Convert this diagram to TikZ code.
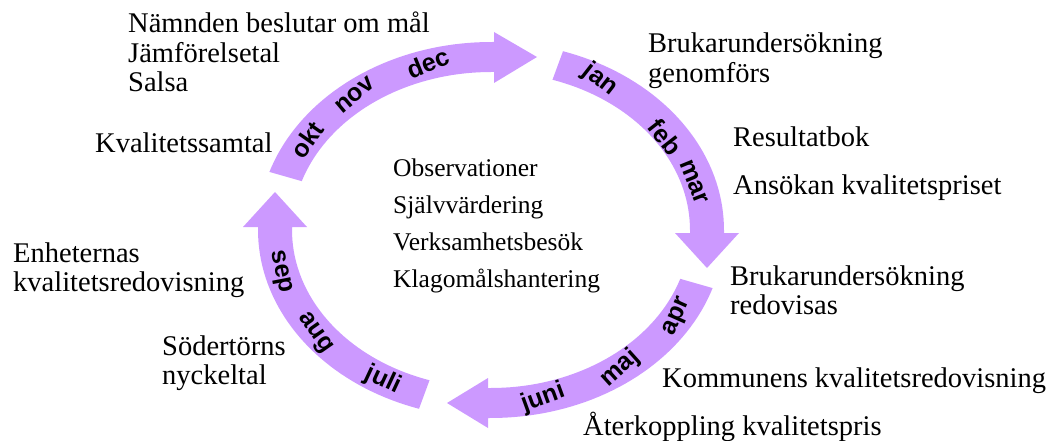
\documentclass[tikz,border=0pt]{standalone}
\usepackage{fontspec}
\setmainfont{Liberation Serif}
\newfontfamily\monthfont{Liberation Sans}
\definecolor{lav}{HTML}{CC99FF}
\newcommand\stacklines[1]{\vtop{\halign{##\hfil\cr#1\crcr}}}
\tikzset{
  band/.style={fill=lav, draw=none},
  mon/.style={font=\monthfont\bfseries\fontsize{25}{25}\selectfont, inner sep=0pt},
  lbl/.style={font=\fontsize{28.5}{29.5}\selectfont, inner sep=0pt, anchor=base west},
  ctr/.style={font=\fontsize{25.5}{36.7}\selectfont, inner sep=0pt, anchor=base west},
}
\begin{document}
\begin{tikzpicture}[x=1pt,y=-1pt]
\useasboundingbox (0,0) rectangle (1053,441);
% top arrow (okt-dec)
\fill[band] plot[domain=162:90, samples=40] ({491+233*cos(\x)},{230-188*sin(\x)})
  -- (494,42) -- (494,32) -- (537,57) -- (494,83) -- (494,72)
  -- plot[domain=90:162, samples=40] ({491+199*cos(\x)},{230-158*sin(\x)}) -- cycle;
% right arrow (jan-mar)
\fill[band] plot[domain=72:0, samples=40] ({491+233*cos(\x)},{230-188*sin(\x)})
  -- (724,233) -- (739,233) -- (707,268) -- (675,233) -- (690,233)
  -- plot[domain=0:72, samples=40] ({491+199*cos(\x)},{230-158*sin(\x)}) -- cycle;
% bottom arrow (apr-juni)
\fill[band] plot[domain=-18:-90, samples=40] ({491+233*cos(\x)},{230-188*sin(\x)})
  -- (488,418) -- (488,428) -- (447,403) -- (488,378) -- (488,388)
  -- plot[domain=-90:-18, samples=40] ({491+199*cos(\x)},{230-158*sin(\x)}) -- cycle;
% left arrow (juli-sep)
\fill[band] plot[domain=252:180, samples=40] ({491+233*cos(\x)},{230-188*sin(\x)})
  -- (258,227) -- (243,227) -- (275,192) -- (307,227) -- (292,227)
  -- plot[domain=180:252, samples=40] ({491+199*cos(\x)},{230-158*sin(\x)}) -- cycle;

% month labels
\node[mon, rotate=55]  (okt)  at (307,140) {okt};
\node[mon, rotate=40]  (nov)  at (355,95)  {nov};
\node[mon, rotate=22]  (dec)  at (428,63)  {dec};
\node[mon, rotate=-38] (jan)  at (600,80)  {jan};
\node[mon, rotate=-52] (feb)  at (665,137) {feb};
\node[mon, rotate=-68] (mar)  at (694,182) {mar};
\node[mon, rotate=66]  (apr)  at (678,317) {apr};
\node[mon, rotate=42]  (maj)  at (620,368) {maj};
\node[mon, rotate=20]  (juni) at (543,398) {juni};
\node[mon, rotate=-25] (juli) at (383,380) {juli};
\node[mon, rotate=-55] (aug)  at (315,333) {aug};
\node[mon, rotate=-79] (sep)  at (280,272) {sep};

% outer texts
\node[lbl] (namnd) at (128,33) {\stacklines{Nämnden beslutar om mål\cr Jämförelsetal\cr Salsa}};
\node[lbl] (kval)  at (95,153) {Kvalitetssamtal};
\node[lbl] (bruk1) at (648,53) {\stacklines{Brukarundersökning\cr genomförs}};
\node[lbl] (resb)  at (733,147) {Resultatbok};
\node[lbl] (anso)  at (733,195) {Ansökan kvalitetspriset};
\node[lbl] (enhet) at (13,262) {\stacklines{Enheternas\cr kvalitetsredovisning}};
\node[lbl] (soder) at (162,355) {\stacklines{Södertörns\cr nyckeltal}};
\node[lbl] (bruk2) at (730,285) {\stacklines{Brukarundersökning\cr redovisas}};
\node[lbl] (komm)  at (662,387) {Kommunens kvalitetsredovisning};
\node[lbl] (ater)  at (583,435) {Återkoppling kvalitetspris};

% center texts
\node[ctr] (center) at (393,177) {\stacklines{Observationer\cr Självvärdering\cr Verksamhetsbesök\cr Klagomålshantering}};
\end{tikzpicture}
\end{document}
